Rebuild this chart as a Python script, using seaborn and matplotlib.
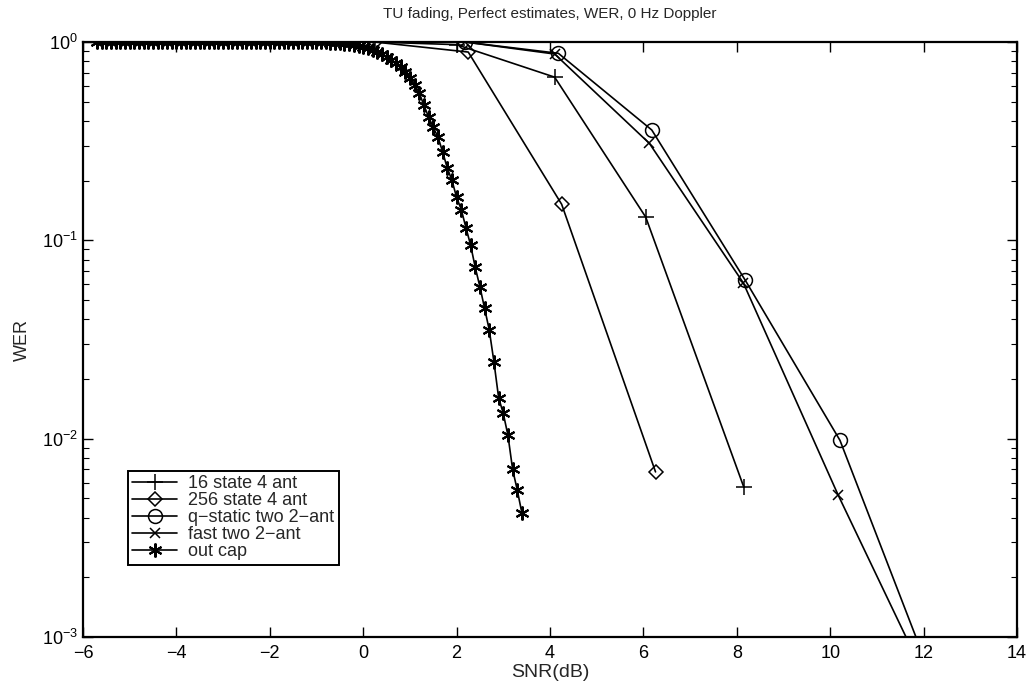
import matplotlib
matplotlib.use('Agg')
import matplotlib.pyplot as plt
import seaborn as sns

# 数据
snr_16 = [0.25, 2.0, 4.1, 6.05, 8.15]
wer_16 = [1.0, 0.97, 0.665, 0.131, 0.0057]

snr_256 = [0.25, 2.25, 4.25, 6.26]
wer_256 = [1.0, 0.89, 0.152, 0.0068]

snr_qs = [2.18, 4.18, 6.18, 8.18, 10.21, 12.2]
wer_qs = [1.0, 0.877, 0.36, 0.063, 0.0098, 0.0006]

snr_fast = [2.18, 4.1, 6.13, 8.14, 10.17, 12.2]
wer_fast = [1.0, 0.87, 0.308, 0.061, 0.0052, 0.00052]

snr_cap = [-5.7, -5.6, -5.5, -5.4, -5.3, -5.2, -5.1, -5.0, -4.9, -4.8,
           -4.7, -4.6, -4.5, -4.4, -4.3, -4.2, -4.1, -4.0, -3.9, -3.8,
           -3.7, -3.6, -3.5, -3.4, -3.3, -3.2, -3.1, -3.0, -2.9, -2.8,
           -2.7, -2.6, -2.5, -2.4, -2.3, -2.2, -2.1, -2.0, -1.9, -1.8,
           -1.7, -1.6, -1.5, -1.4, -1.3, -1.2, -1.1, -1.0, -0.9, -0.8,
           -0.7, -0.6, -0.5, -0.4, -0.3, -0.2, -0.1, 0.0, 0.1, 0.2,
           0.3, 0.4, 0.5, 0.6, 0.7, 0.8, 0.9, 1.0, 1.1, 1.2,
           1.3, 1.4, 1.5, 1.6, 1.7, 1.8, 1.9, 2.0, 2.1, 2.2,
           2.3, 2.4, 2.5, 2.6, 2.7, 2.8, 2.9, 3.0, 3.1, 3.2,
           3.3, 3.4]
wer_cap = [1.0, 1.0, 1.0, 1.0, 1.0, 1.0, 1.0, 1.0, 1.0, 1.0,
           1.0, 1.0, 1.0, 1.0, 1.0, 1.0, 1.0, 1.0, 1.0, 1.0,
           1.0, 1.0, 1.0, 1.0, 1.0, 1.0, 1.0, 1.0, 1.0, 1.0,
           1.0, 1.0, 1.0, 1.0, 1.0, 1.0, 1.0, 1.0, 1.0, 1.0,
           1.0, 1.0, 1.0, 0.9995, 0.999, 0.999, 0.998, 0.997, 0.996, 0.995,
           0.993, 0.99, 0.986, 0.98, 0.974, 0.966, 0.956, 0.945, 0.93, 0.912,
           0.89, 0.866, 0.84, 0.81, 0.78, 0.745, 0.705, 0.66, 0.61, 0.555,
           0.48, 0.42, 0.371, 0.333, 0.28, 0.232, 0.201, 0.165, 0.143, 0.116,
           0.0947, 0.073, 0.0583, 0.0454, 0.0353, 0.0244, 0.0161, 0.0134, 0.0104, 0.007,
           0.0055, 0.0042]

labels = ['16 state 4 ant', '256 state 4 ant', 'q\u2212static two 2\u2212ant',
          'fast two 2\u2212ant', 'out cap']

sns.set_style('ticks')
plt.rcParams['font.family'] = ['Liberation Sans', 'DejaVu Sans']
plt.rcParams['mathtext.fontset'] = 'custom'
plt.rcParams['mathtext.rm'] = 'Liberation Sans'
plt.rcParams['mathtext.it'] = 'Liberation Sans'

fig = plt.figure(figsize=(10.28, 6.81), dpi=100)
ax = fig.add_axes([0.0807, 0.0646, 0.9086, 0.8737])

common = dict(ax=ax, color='k', lw=1.2, markeredgecolor='k', markeredgewidth=1.1)
sns.lineplot(x=snr_16, y=wer_16, marker='+', markersize=11, label=labels[0], **common)
sns.lineplot(x=snr_256, y=wer_256, marker='D', markersize=7, markerfacecolor='none',
             label=labels[1], **common)
sns.lineplot(x=snr_qs, y=wer_qs, marker='o', markersize=10, markerfacecolor='none',
             label=labels[2], **common)
sns.lineplot(x=snr_fast, y=wer_fast, marker='x', markersize=7, label=labels[3], **common)
cap_kw = dict(common, markeredgewidth=1.5)
sns.lineplot(x=snr_cap, y=wer_cap, marker=(6, 2, 0), markersize=10, label=labels[4], **cap_kw)

ax.set_yscale('log')
ax.set_xlim(-6, 14)
ax.set_ylim(1e-3, 1)
ax.set_xticks(range(-6, 15, 2))
ax.set_xticklabels(['\u22126', '\u22124', '\u22122', '0', '2', '4', '6', '8', '10', '12', '14'])

for side in ['top', 'right', 'left', 'bottom']:
    ax.spines[side].set_visible(True)
    ax.spines[side].set_linewidth(1.6)
    ax.spines[side].set_color('k')
ax.tick_params(which='both', direction='in', top=True, right=True, colors='k',
               labelsize=13)
ax.tick_params(which='major', length=7, width=1)
ax.tick_params(which='minor', length=4, width=0.8)
ax.tick_params(axis='x', which='minor', bottom=False, top=False)
ax.tick_params(axis='x', which='major', pad=6)

ax.set_xlabel('SNR(dB)', fontsize=14, labelpad=1)
ax.set_ylabel('WER', fontsize=13, labelpad=8)
ax.set_title('TU fading, Perfect estimates, WER, 0 Hz Doppler', fontsize=11, pad=17)

leg = ax.legend(loc='lower left', bbox_to_anchor=(0.048, 0.121), fontsize=13,
                frameon=True, fancybox=False, edgecolor='k', framealpha=1,
                handlelength=2.5, handletextpad=0.6, labelspacing=0.0,
                borderpad=0.25, borderaxespad=0)
leg.get_frame().set_linewidth(1.4)

plt.savefig('out.png', dpi=100)
plt.close()
